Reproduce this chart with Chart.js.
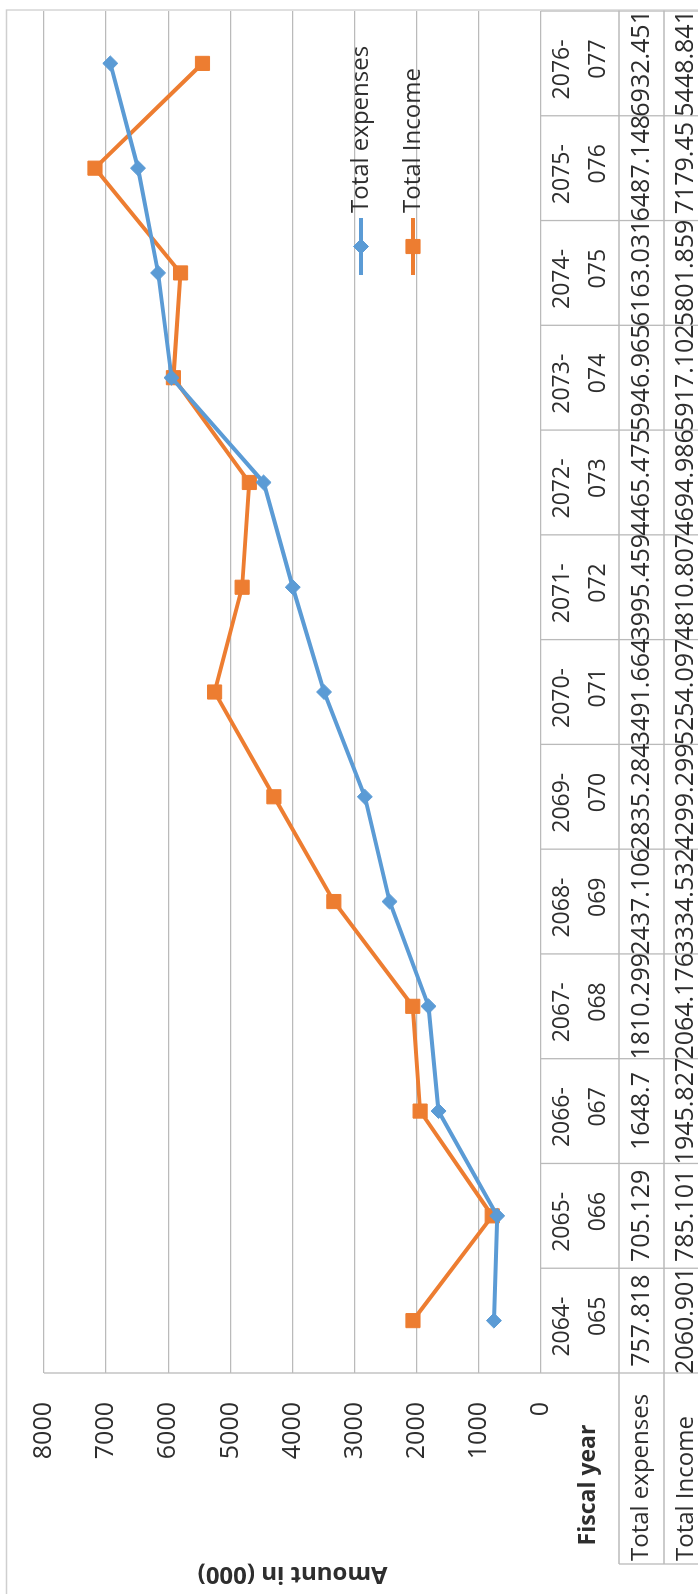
<!DOCTYPE html>
<html lang="en">
<head>
    <meta charset="UTF-8">
    <title>Total expenses and Total Income</title>
    <script src="https://cdn.jsdelivr.net/npm/chart.js"></script>
    <style>
        html, body { margin: 0; padding: 0; width: 698px; height: 1594px; overflow: hidden; background: #fff; }
        /* the chart is drawn landscape and turned a quarter turn to the left */
        #wrap { position: absolute; left: 0; top: 0; width: 1594px; height: 698px;
                transform-origin: 0 0; transform: translateY(1594px) rotate(-90deg); }
    </style>
</head>
<body>
    <div id="wrap"><canvas id="myChart" width="1594" height="698"></canvas></div>

    <script>
        // data
        const fiscalYears = ['2064-065', '2065-066', '2066-067', '2067-068', '2068-069', '2069-070',
                             '2070-071', '2071-072', '2072-073', '2073-074', '2074-075', '2075-076', '2076-077'];
        const totalExpenses = [757.818, 705.129, 1648.7, 1810.299, 2437.106, 2835.284, 3491.664,
                               3995.459, 4465.475, 5946.965, 6163.031, 6487.148, 6932.451];
        const totalIncome = [2060.901, 785.101, 1945.827, 2064.176, 3334.532, 4299.299, 5254.097,
                             4810.807, 4694.986, 5917.102, 5801.859, 7179.45, 5448.841];
        const axisMin = 0;
        const axisMax = 8000;
        const axisStep = 1000;

        const FONT = "'Open Sans', 'Noto Sans', sans-serif";
        const TEXT = '#2e2e2e';
        const LINE = '#bababa';

        Chart.defaults.font.family = FONT;
        Chart.defaults.color = TEXT;

        // data table under the plot, plus the axis title "Fiscal year"
        const tablePlugin = {
            id: 'dataTable',
            afterDraw(chart) {
                const ctx = chart.ctx;
                const area = chart.chartArea;
                const xs = chart.scales.x;
                const band = (area.right - area.left) / fiscalYears.length;
                const row1 = 619, row2 = 664, bottom = chart.height;
                const labelLeft = 30;

                ctx.save();
                ctx.strokeStyle = LINE;
                ctx.lineWidth = 1.3;
                ctx.beginPath();
                // row lines
                [row1, row2].forEach(y => { ctx.moveTo(labelLeft, y); ctx.lineTo(area.right + 1, y); });
                // column lines
                for (let i = 0; i <= fiscalYears.length; i++) {
                    const x = area.left + i * band;
                    ctx.moveTo(x, i === 0 ? area.top : area.bottom);
                    ctx.lineTo(x, bottom);
                }
                ctx.moveTo(labelLeft, row1);
                ctx.lineTo(labelLeft, bottom);
                ctx.stroke();

                // outer chart border
                ctx.strokeStyle = '#cfcfcf';
                ctx.beginPath();
                ctx.moveTo(0, 6.5);
                ctx.lineTo(area.right + 1, 6.5);
                ctx.lineTo(area.right + 1, bottom);
                ctx.stroke();

                ctx.fillStyle = TEXT;
                ctx.textBaseline = 'middle';

                // category headers on two lines
                ctx.font = '23px ' + FONT;
                ctx.textAlign = 'right';
                fiscalYears.forEach((fy, i) => {
                    const cx = xs.getPixelForValue(i);
                    const cut = fy.indexOf('-') + 1;
                    ctx.fillText(fy.slice(0, cut), cx + 24, 562);
                    ctx.fillText(fy.slice(cut), cx + 24, 598);
                });

                // values and row labels
                chart.data.datasets.forEach((ds, r) => {
                    const cy = r === 0 ? (row1 + row2) / 2 : row2 + 22;
                    ctx.font = '25px ' + FONT;
                    ctx.textAlign = 'center';
                    ds.data.forEach((v, i) => ctx.fillText(String(v), xs.getPixelForValue(i), cy));
                    ctx.textAlign = 'left';
                    ctx.font = '24px ' + FONT;
                    ctx.fillText(ds.label, labelLeft + 3, cy);
                });

                ctx.font = 'bold 23px ' + FONT;
                ctx.textAlign = 'center';
                ctx.fillText('Fiscal year', 109, 588);
                ctx.restore();
            }
        };

        // legend sitting inside the plot, lines show through it
        const legendPlugin = {
            id: 'insideLegend',
            afterDraw(chart) {
                const ctx = chart.ctx;
                ctx.save();
                chart.data.datasets.forEach((ds, i) => {
                    const y = 361 + i * 52;
                    ctx.strokeStyle = ds.borderColor;
                    ctx.fillStyle = ds.backgroundColor;
                    ctx.lineWidth = 4;
                    ctx.beginPath();
                    ctx.moveTo(1319, y);
                    ctx.lineTo(1376, y);
                    ctx.stroke();
                    ctx.lineWidth = 1;
                    Chart.helpers.drawPoint(ctx, { pointStyle: ds.pointStyle, radius: ds.pointRadius, borderWidth: 1 }, 1347.5, y);
                    ctx.fillStyle = TEXT;
                    ctx.font = '24px ' + FONT;
                    ctx.textAlign = 'left';
                    ctx.textBaseline = 'middle';
                    ctx.fillText(ds.label, 1381, y);
                });
                ctx.restore();
            }
        };

        const ctx = document.getElementById('myChart').getContext('2d');
        new Chart(ctx, {
            type: 'line',
            data: {
                labels: fiscalYears,
                datasets: [{
                    label: 'Total expenses',
                    data: totalExpenses,
                    borderColor: '#5B9BD5',
                    backgroundColor: '#5B9BD5',
                    borderWidth: 4,
                    pointStyle: 'rectRot',
                    pointRadius: 7.5,
                    pointBorderWidth: 1,
                    tension: 0
                }, {
                    label: 'Total Income',
                    data: totalIncome,
                    borderColor: '#ED7D31',
                    backgroundColor: '#ED7D31',
                    borderWidth: 4,
                    pointStyle: 'rect',
                    pointRadius: 10,
                    pointBorderWidth: 1,
                    tension: 0
                }]
            },
            options: {
                responsive: false,
                animation: false,
                layout: { padding: { top: 24, right: 7, bottom: 157, left: 0 } },
                plugins: {
                    legend: { display: false },
                    tooltip: { enabled: false }
                },
                scales: {
                    x: { display: false, offset: true },
                    y: {
                        min: axisMin,
                        max: axisMax,
                        ticks: {
                            stepSize: axisStep,
                            padding: 29,
                            font: { size: 25 },
                            color: TEXT,
                            callback: v => String(v)
                        },
                        grid: { color: LINE, lineWidth: 1.3, drawTicks: false },
                        border: { display: false },
                        title: {
                            display: true,
                            text: 'Amount in (000)',
                            font: { size: 24, weight: 'bold' },
                            color: TEXT,
                            padding: { top: 6, bottom: 0 }
                        },
                        afterFit(scale) { scale.width = 221; }
                    }
                }
            },
            plugins: [tablePlugin, legendPlugin]
        });
    </script>
</body>
</html>
